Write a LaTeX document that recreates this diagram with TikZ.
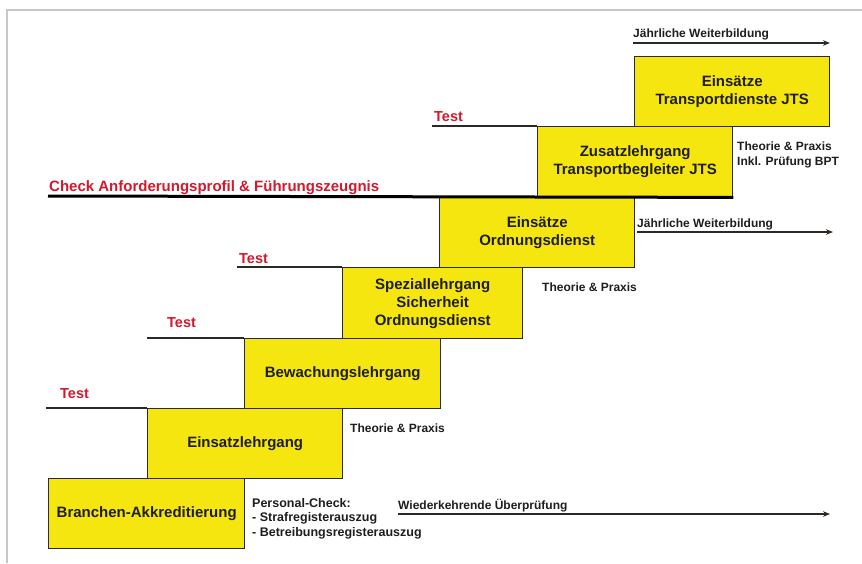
\documentclass[tikz,border=0pt]{standalone}
\usepackage{fontspec}
\setmainfont{Liberation Sans}
\usetikzlibrary{arrows.meta}
\definecolor{boxyellow}{RGB}{245,230,15}
\definecolor{boxline}{RGB}{45,40,35}
\definecolor{testred}{RGB}{210,25,45}
\definecolor{framegray}{RGB}{200,200,200}
\definecolor{txt}{RGB}{30,30,30}
\begin{document}
\begin{tikzpicture}[x=1pt,y=-1pt,
  stagebox/.style={draw=boxline, line width=1.4pt, fill=boxyellow, anchor=north west,
    minimum width=195pt, minimum height=70pt, inner sep=2pt, align=center,
    font=\fontsize{15}{18}\selectfont\bfseries, text=txt},
  redlbl/.style={anchor=base west, inner sep=0pt, text=testred, font=\fontsize{14.5}{17}\selectfont\bfseries},
  smalllbl/.style={anchor=base west, inner sep=0pt, text=txt, align=left, font=\fontsize{12}{15}\selectfont\bfseries},
  testline/.style={draw=boxline, line width=1.3pt},
  checkline/.style={draw=black, line width=3pt},
  arrowline/.style={draw=boxline, line width=1.3pt, -{Stealth[length=7pt,width=5.5pt]}}
]
\useasboundingbox (0,0) rectangle (862,563);
\fill[white] (0,0) rectangle (862,563);
\draw[framegray, line width=2pt] (7,563) -- (7,10) -- (862,10);

% stages
\node[stagebox, minimum width=196pt] (b1) at (48,478) {Branchen-Akkreditierung};
\node[stagebox] (b2) at (147,408) {Einsatzlehrgang};
\node[stagebox, minimum width=196pt] (b3) at (244,338) {Bewachungslehrgang};
\node[stagebox, minimum width=180pt, minimum height=71pt] (b4) at (342,267) {Speziallehrgang\\Sicherheit\\Ordnungsdienst};
\node[stagebox] (b5) at (439,197) {Einsätze\\Ordnungsdienst};
\node[stagebox] (b6) at (537,126) {Zusatzlehrgang\\Transportbegleiter JTS};
\node[stagebox] (b7) at (634,56) {Einsätze\\Transportdienste JTS};

% test lines
\coordinate (t1) at (46,408);
\coordinate (t2) at (147,338);
\coordinate (t3) at (237,267);
\coordinate (t4) at (432,126);
\draw[testline] (t1) -- (b2.north west);
\draw[testline] (t2) -- (b3.north west);
\draw[testline] (t3) -- (b4.north west);
\draw[testline] (t4) -- (b6.north west);
\node[redlbl] (l1) at (60,398) {Test};
\node[redlbl] (l2) at (167,327) {Test};
\node[redlbl] (l3) at (239,263) {Test};
\node[redlbl] (l4) at (434,121) {Test};

% check line
\coordinate (c0) at (48,196);
\draw[checkline] (c0) -- (b6.south east);
\node[redlbl, font=\fontsize{15}{17}\selectfont\bfseries] (lc) at (49,191) {Check Anforderungsprofil \& Führungszeugnis};

% arrows
\coordinate (a1s) at (633,43);
\coordinate (a1e) at (830,43);
\draw[arrowline] (a1s) -- (a1e);
\node[smalllbl] (w1) at (633,37) {Jährliche Weiterbildung};
\coordinate (a2s) at (637,232);
\coordinate (a2e) at (833,232);
\draw[arrowline] (a2s) -- (a2e);
\node[smalllbl] (w2) at (637,227) {Jährliche Weiterbildung};
\coordinate (a3s) at (398,514);
\coordinate (a3e) at (830,514);
\draw[arrowline] (a3s) -- (a3e);
\node[smalllbl] (w3) at (398,509) {Wiederkehrende Überprüfung};

% notes (multi-line nodes: base = last line)
\node[smalllbl] (n1) at (350,432) {Theorie \& Praxis};
\node[smalllbl] (n2) at (542,291) {Theorie \& Praxis};
\node[smalllbl] (n3) at (737,165) {Theorie \& Praxis\\Inkl. Prüfung BPT};
\node[smalllbl, font=\fontsize{12.5}{14.2}\selectfont\bfseries] (n4) at (252,536) {Personal-Check:\\- Strafregisterauszug\\- Betreibungsregisterauszug};
\end{tikzpicture}
\end{document}
